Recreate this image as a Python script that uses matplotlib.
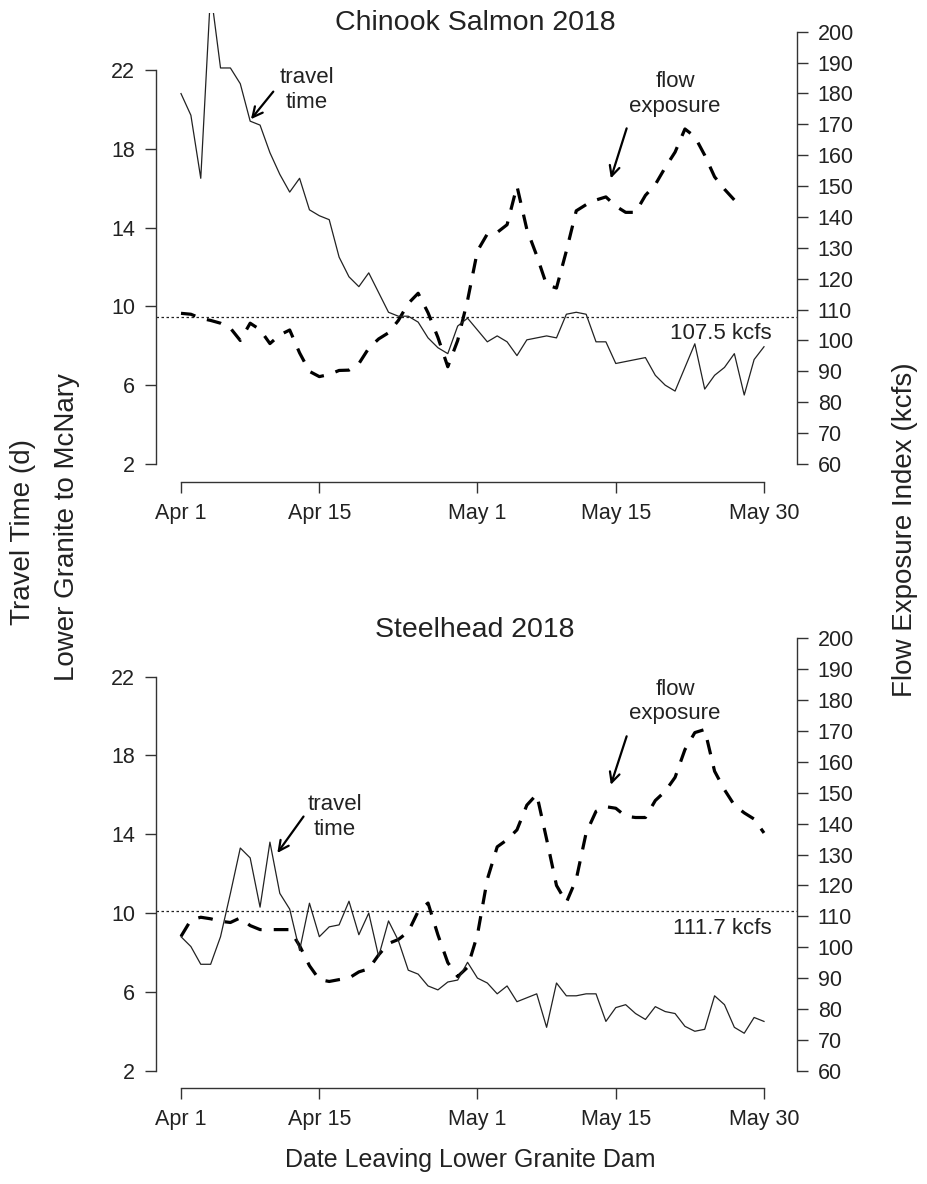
import numpy as np
import matplotlib.pyplot as plt

plt.rcParams['font.family'] = ['Liberation Sans', 'DejaVu Sans']

# days since Apr 1 (Apr 1 = 1 ... May 30 = 60)
days = np.arange(1, 61)
date_ticks = [1, 15, 31, 45, 60]
date_labels = ['Apr 1', 'Apr 15', 'May 1', 'May 15', 'May 30']

# Chinook salmon 2018
chinook_travel = [20.8, 19.7, 16.5, 26.0, 22.1, 22.1, 21.3, 19.4, 19.2, 17.8,
                  16.7, 15.8, 16.5, 14.9, 14.6, 14.4, 12.5, 11.5, 11.0, 11.7,
                  10.7, 9.7, 9.5, 9.5, 9.2, 8.4, 7.9, 7.6, 9.0, 9.4,
                  8.8, 8.2, 8.5, 8.2, 7.5, 8.3, 8.4, 8.5, 8.4, 9.6,
                  9.7, 9.6, 8.2, 8.2, 7.1, 7.2, 7.3, 7.4, 6.5, 6.0,
                  5.7, 6.9, 8.1, 5.8, 6.5, 6.9, 7.6, 5.5, 7.3, 7.95]
chinook_flow = [108.8, 108.5, 107.2, 106.5, 105.6, 104.0, 100.0, 105.6, 103.5, 99.0,
                101.8, 103.4, 96.0, 90.0, 88.3, 89.0, 90.3, 90.4, 92.5, 97.5,
                100.5, 102.5, 106.5, 112.0, 115.3, 109.0, 101.0, 91.5, 100.0, 113.0,
                129.0, 134.5, 135.0, 137.5, 150.0, 136.0, 127.5, 118.0, 117.0, 129.0,
                142.0, 144.0, 145.5, 146.5, 143.5, 141.5, 141.5, 147.0, 150.5, 156.0,
                161.0, 168.5, 166.0, 160.0, 153.0, 149.0, 145.5]
chinook_mean = 107.5

# Steelhead 2018
steel_travel = [8.8, 8.3, 7.4, 7.4, 8.8, 11.0, 13.3, 12.8, 10.3, 13.6,
                11.0, 10.2, 8.1, 10.5, 8.8, 9.3, 9.4, 10.6, 8.9, 10.0,
                7.8, 9.6, 8.6, 7.1, 6.9, 6.3, 6.1, 6.5, 6.6, 7.5,
                6.7, 6.45, 5.9, 6.3, 5.5, 5.7, 5.9, 4.2, 6.45, 5.8,
                5.8, 5.9, 5.9, 4.5, 5.2, 5.35, 4.9, 4.6, 5.25, 5.0,
                4.9, 4.25, 4.0, 4.1, 5.8, 5.35, 4.2, 3.9, 4.7, 4.5]
steel_flow = [103.5, 108.8, 109.7, 109.2, 108.4, 108.0, 109.5, 107.0, 105.7, 105.7,
              105.7, 105.7, 100.5, 94.0, 89.5, 88.9, 89.5, 90.0, 92.0, 93.0,
              97.5, 101.2, 102.5, 105.0, 111.6, 114.3, 104.0, 95.0, 90.5, 93.5,
              104.0, 122.0, 132.5, 134.8, 138.0, 146.0, 149.5, 135.0, 120.0, 114.5,
              122.0, 137.0, 144.0, 145.5, 145.0, 142.4, 142.0, 142.0, 147.5, 150.5,
              155.0, 164.0, 169.5, 170.5, 157.0, 151.0, 146.0, 143.5, 141.5, 137.0]
steel_mean = 111.7

W, H = 927, 1184
fig = plt.figure(figsize=(W / 100, H / 100), dpi=100)
ink = '#222222'
tick_fs = 15.5
note_fs = 16


def px_rect(left, top, right, bottom):
    return [left / W, 1 - bottom / H, (right - left) / W, (bottom - top) / H]


def panel(rect, travel, flow, mean_flow, notes):
    ax = fig.add_axes(rect)
    ax2 = ax.twinx()
    ax.set_zorder(ax2.get_zorder() + 1)
    ax.patch.set_visible(False)

    ax.set_xlim(-1.53, 63.34)
    ax.set_ylim(1.10, 24.89)
    ax2.set_ylim(54.27, 206.06)

    # travel time (thin solid) and flow exposure (thick dashed)
    ax.plot(days, travel, color=ink, lw=0.9, zorder=3)
    fdays = days[:len(flow)]
    ax2.plot(fdays, flow, color='black', lw=2.3, linestyle=(0, (4.6, 3.8)),
             dash_capstyle='butt', zorder=3)
    ax2.axhline(mean_flow, color=ink, lw=0.9, linestyle=(0, (2, 2)), zorder=2)
    ax2.text(60.8, notes['kcfs_y'], f'{mean_flow} kcfs', ha='right', va='center',
             fontsize=note_fs, color=ink)

    # annotations
    tx, ty, t_from, t_to = notes['travel']
    ax.text(tx, ty, 'travel\ntime', ha='center', va='center', fontsize=note_fs,
            color=ink, linespacing=1.25)
    ax.annotate('', xy=t_to, xytext=t_from,
                arrowprops=dict(arrowstyle='->', lw=1.6, color='black',
                                mutation_scale=18, shrinkA=0, shrinkB=0))
    fx, fy, f_from, f_to = notes['flow']
    ax2.text(fx, fy, 'flow\nexposure', ha='center', va='center', fontsize=note_fs,
             color=ink, linespacing=1.2)
    ax2.annotate('', xy=f_to, xytext=f_from,
                 arrowprops=dict(arrowstyle='->', lw=1.6, color='black',
                                 mutation_scale=18, shrinkA=0, shrinkB=0))

    # R-like axes: spines only span the tick range
    ax.spines['top'].set_visible(False)
    ax2.spines['top'].set_visible(False)
    ax.spines['right'].set_visible(False)
    ax2.spines['left'].set_visible(False)
    ax2.spines['bottom'].set_visible(False)
    ax.spines['left'].set_bounds(2, 22)
    ax.spines['bottom'].set_bounds(1, 60)
    ax2.spines['right'].set_bounds(60, 200)
    for s in (ax.spines['left'], ax.spines['bottom'], ax2.spines['right']):
        s.set_color('#333333')
        s.set_linewidth(1.0)

    ax.set_yticks([2, 6, 10, 14, 18, 22])
    ax.set_xticks(date_ticks)
    ax.set_xticklabels(date_labels)
    ax2.set_yticks(np.arange(60, 201, 10))
    ax.tick_params(axis='both', length=8, width=1.0, color='#333333',
                   labelsize=tick_fs, labelcolor=ink, pad=7)
    ax2.tick_params(axis='y', length=8, width=1.0, color='#333333',
                    labelsize=tick_fs, labelcolor=ink, pad=7)
    return ax, ax2


top_notes = {
    'kcfs_y': 102.3,
    'travel': (13.7, 21.0, (10.34, 20.9), (8.08, 19.5)),
    'flow': (51.0, 179.8, (46.1, 168.7), (44.5, 152.5)),
}
bot_notes = {
    'kcfs_y': 106.2,
    'travel': (16.6, 14.9, (13.4, 14.9), (10.75, 13.05)),
    'flow': (51.0, 179.6, (46.1, 168.3), (44.5, 152.6)),
}

panel(px_rect(156, 13, 797, 481.7), chinook_travel, chinook_flow, chinook_mean, top_notes)
panel(px_rect(156, 619.7, 797, 1088.4), steel_travel, steel_flow, steel_mean, bot_notes)

fig.text(475 / W, 1 - 23.3 / H, 'Chinook Salmon 2018', ha='center', va='center',
         fontsize=20.5, color=ink)
fig.text(475 / W, 1 - 630 / H, 'Steelhead 2018', ha='center', va='center',
         fontsize=20.5, color=ink)

fig.text(23.3 / W, 1 - 532 / H, 'Travel Time (d)', rotation=90, ha='center',
         va='center', fontsize=20, color=ink)
fig.text(66.7 / W, 1 - 527 / H, 'Lower Granite to McNary', rotation=90, ha='center',
         va='center', fontsize=20, color=ink)
fig.text(905 / W, 1 - 530 / H, 'Flow Exposure Index (kcfs)', rotation=90, ha='center',
         va='center', fontsize=20, color=ink)
fig.text(470 / W, 1 - 1160 / H, 'Date Leaving Lower Granite Dam', ha='center',
         va='center', fontsize=18, color=ink)

fig.savefig('out.png', dpi=100)
